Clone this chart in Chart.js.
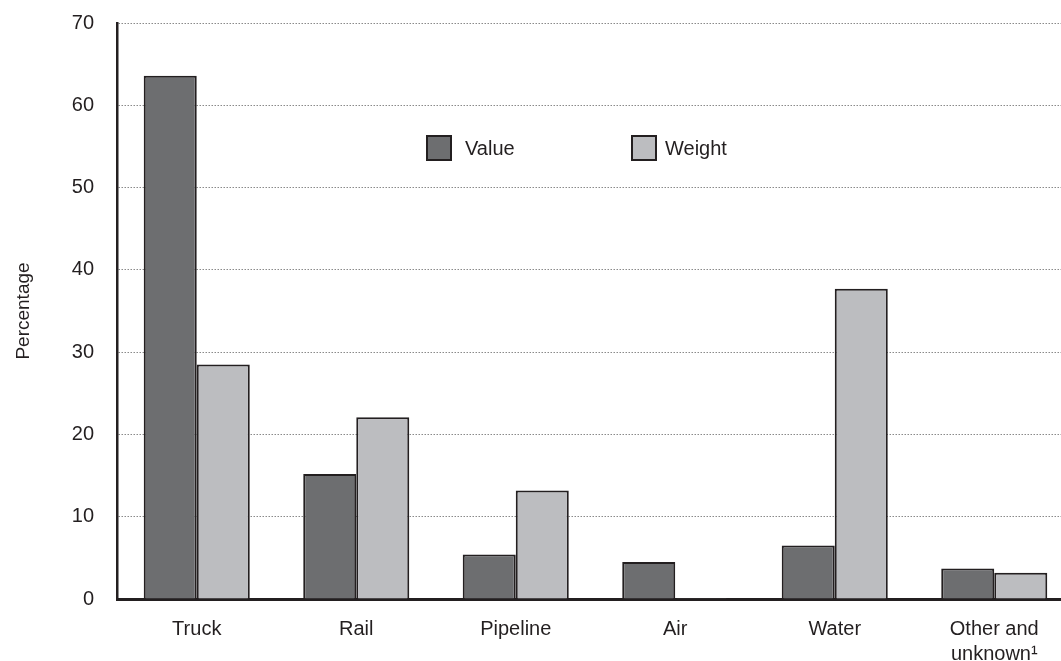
<!DOCTYPE html>
<html>
<head>
<meta charset="utf-8">
<script src="https://cdn.jsdelivr.net/npm/chart.js@4.4.1/dist/chart.umd.min.js"></script>
<style>
  html, body { margin: 0; padding: 0; background: #fff; overflow: hidden; }
  #wrap { width: 1074px; height: 661px; position: relative; }
</style>
</head>
<body>
<div id="wrap"><canvas id="modes_chart"></canvas></div>
<script>
const categories = ['Truck', 'Rail', 'Pipeline', 'Air', 'Water', ['Other and', 'unknown\u00B9']]
const valueShares = [63.6, 15.2, 5.4, 4.5, 6.5, 3.7]
const weightShares = [28.5, 22.1, 13.2, 0.1, 37.7, 3.2]
const yTicks = [0, 10, 20, 30, 40, 50, 60, 70]

const ink = '#231f20'
const fontFamily = '"Liberation Sans", Arial, Helvetica, sans-serif'

// legend sits inside the plot, so draw it by hand
const insideLegend = {
    id: 'insideLegend',
    afterDraw (chart) {
        const ctx = chart.ctx
        const spots = [{box: 427, text: 465}, {box: 632, text: 665}]
        ctx.save()
        chart.data.datasets.forEach((ds, i) => {
            const s = spots[i]
            ctx.fillStyle = ds.backgroundColor
            ctx.fillRect(s.box, 136, 24, 24)
            ctx.lineWidth = 2
            ctx.strokeStyle = ink
            ctx.strokeRect(s.box, 136, 24, 24)
            ctx.fillStyle = ink
            ctx.font = '20px ' + fontFamily
            ctx.textBaseline = 'middle'
            ctx.fillText(ds.label, s.text, 149)
        })
        ctx.restore()
    }
}

const data = {
    labels: categories,
    datasets: [{
        label: 'Value',
        data: valueShares,
        backgroundColor: '#6d6e70',
        borderColor: ink,
        borderWidth: 2,
    }, {
        label: 'Weight',
        data: weightShares,
        backgroundColor: '#bcbdc0',
        borderColor: ink,
        borderWidth: 2,
    }]
}

const config = {
    type: 'bar',
    data: data,
    options: {
        responsive: true,
        maintainAspectRatio: false,
        animation: false,
        categoryPercentage: 0.665,
        barPercentage: 1,
        layout: { padding: { top: 0, right: 0, bottom: 0, left: 0 } },
        plugins: {
            legend: { display: false },
            tooltip: { enabled: false },
        },
        scales: {
            x: {
                grid: { display: false, drawTicks: false },
                border: { display: true, color: ink, width: 3 },
                ticks: {
                    color: ink,
                    padding: 18,
                    maxRotation: 0,
                    autoSkip: false,
                    font: { family: fontFamily, size: 20, lineHeight: 1.25 },
                },
                afterFit (scale) { scale.height = 62 },
            },
            y: {
                min: 0,
                max: 70,
                afterBuildTicks (scale) { scale.ticks = yTicks.map(v => ({value: v})) },
                grid: { color: '#8a8a8a', lineWidth: 1, drawTicks: true, tickLength: 12, tickColor: 'rgba(0,0,0,0)' },
                border: { display: true, color: ink, width: 2.5, dash: [1.5, 1.5] },
                ticks: {
                    color: ink,
                    padding: 11,
                    font: { family: fontFamily, size: 20 },
                },
                title: {
                    display: true,
                    text: 'Percentage',
                    color: ink,
                    padding: { top: 12, bottom: 0 },
                    font: { family: fontFamily, size: 19 },
                },
                afterFit (scale) { scale.width = 117 },
            }
        }
    },
    plugins: [insideLegend]
}

new Chart(document.getElementById('modes_chart'), config)
</script>
</body>
</html>
